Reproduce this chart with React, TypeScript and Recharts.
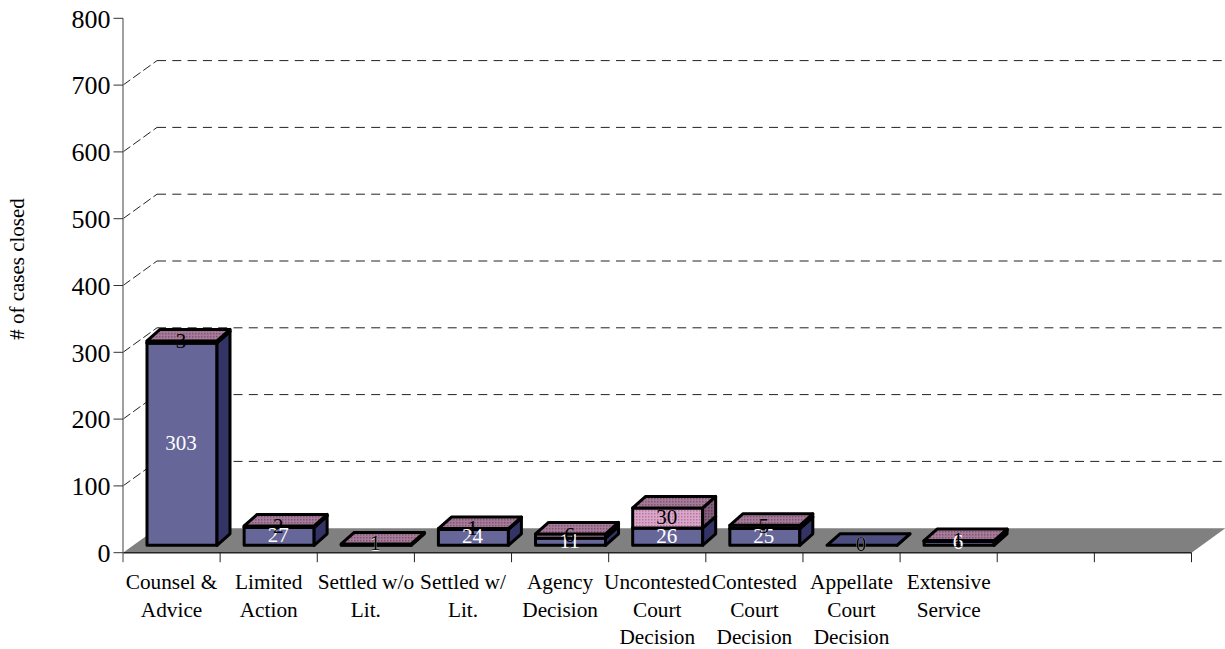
import React from 'react';
import { BarChart, Bar, XAxis, YAxis, CartesianGrid, LabelList } from 'recharts';

const categories = [
  'Counsel &\nAdvice',
  'Limited\nAction',
  'Settled w/o\nLit.',
  'Settled w/\nLit.',
  'Agency\nDecision',
  'Uncontested\nCourt\nDecision',
  'Contested\nCourt\nDecision',
  'Appellate\nCourt\nDecision',
  'Extensive\nService',
  '',
  ' ',
];
const closedValues = [303, 27, 1, 24, 11, 26, 25, 0, 6, null, null];
const otherValues = [3, 2, 1, 1, 6, 30, 5, 0, 1, null, null];
const yTicks = [0, 100, 200, 300, 400, 500, 600, 700, 800];

const data = categories.map((name, i) => ({ name, closed: closedValues[i], other: otherValues[i] }));

const FONT = '"Liberation Serif", serif';
const WIDTH = 1225;
const HEIGHT = 649;
const PLOT_LEFT = 123;
const PLOT_RIGHT = 33.5;
const PLOT_TOP = 18.3;
const AXIS_HEIGHT = 96.3;
const BAND = (WIDTH - PLOT_LEFT - PLOT_RIGHT) / categories.length;

// fake 3D offsets
const WALL_DX = 34;
const WALL_DY = -24.5;
const BAR_SHIFT_X = 10;
const BAR_SHIFT_Y = -7.4;
const BAR_DX = 13;
const BAR_DY = -11.5;

const makeBox = (front: string, side: string, top: string) => (props: any) => {
  const { x, y, width, height } = props;
  const value = props.dataKey === 'closed' ? props.payload.closed : props.payload.other;
  if (value === null || value === undefined) return <g />;
  if (props.dataKey === 'other' && value === 0) return <g />;
  const l = x + BAR_SHIFT_X;
  const t = y + BAR_SHIFT_Y;
  const r = l + width;
  const b = t + height;
  const line = { stroke: '#000', strokeWidth: 3, strokeLinejoin: 'round' as const };
  return (
    <g>
      <rect x={l} y={t} width={width} height={height} fill={front} {...line} />
      <polygon points={`${r},${t} ${r + BAR_DX},${t + BAR_DY} ${r + BAR_DX},${b + BAR_DY} ${r},${b}`} fill={side} {...line} />
      <polygon points={`${l},${t} ${l + BAR_DX},${t + BAR_DY} ${r + BAR_DX},${t + BAR_DY} ${r},${t}`} fill={top} {...line} />
    </g>
  );
};

const ClosedBox = makeBox('#666699', '#333366', '#4d4d80');
const OtherBox = makeBox('url(#pinkFront)', 'url(#pinkSide)', 'url(#pinkTop)');

const makeLabel = (fill: string) => (props: any) => {
  const { x, y, width, height, value } = props;
  if (value === null || value === undefined) return null;
  return (
    <text
      x={x + width / 2 + BAR_SHIFT_X - 1}
      y={y + height / 2 + BAR_SHIFT_Y + 6}
      textAnchor="middle"
      fontFamily={FONT}
      fontSize={21}
      fill={fill}
    >
      {value}
    </text>
  );
};

const GridLevel = (props: any) => {
  const { x1, x2, y1, index } = props;
  const bottom = HEIGHT - AXIS_HEIGHT;
  if (y1 < PLOT_TOP + 1) return <g key={index} />;
  if (y1 > bottom - 1) {
    return (
      <polygon
        key={index}
        points={`${x1},${y1} ${x1 + WALL_DX},${y1 + WALL_DY} ${x2 + WALL_DX},${y1 + WALL_DY} ${x2},${y1}`}
        fill="#808080"
      />
    );
  }
  return (
    <g key={index} fill="none" stroke="#222" strokeWidth={1}>
      <line x1={x1} y1={y1} x2={x1 + WALL_DX} y2={y1 + WALL_DY} strokeDasharray="9 3.5" />
      <line x1={x1 + WALL_DX} y1={y1 + WALL_DY} x2={x2 + WALL_DX} y2={y1 + WALL_DY} strokeDasharray="9 6.3" />
    </g>
  );
};

const CategoryTick = (props: any) => {
  const { x, y, payload, index } = props;
  const lines = String(payload.value).trim().split('\n').filter(Boolean);
  return (
    <g>
      {index === 0 && <line x1={x - BAND / 2} y1={y} x2={x - BAND / 2} y2={y + 9.5} stroke="#444" />}
      <line x1={x + BAND / 2} y1={y} x2={x + BAND / 2} y2={y + 9.5} stroke="#222" />
      {lines.map((text, i) => (
        <text key={i} x={x} y={y + 36.5 + i * 27.5} textAnchor="middle" fontFamily={FONT} fontSize={21.3} fill="#000">
          {text}
        </text>
      ))}
    </g>
  );
};

const AxisTitle = () => (
  <text
    transform="translate(24 269) rotate(-90)"
    textAnchor="middle"
    fontFamily={FONT}
    fontSize={21}
    fill="#000"
  >
    # of cases closed
  </text>
);

export default function App() {
  return (
    <div style={{ position: 'absolute', left: 0, top: 0, width: WIDTH, height: HEIGHT, background: '#fff' }}>
      <BarChart
        width={WIDTH}
        height={HEIGHT}
        data={data}
        margin={{ top: PLOT_TOP, right: PLOT_RIGHT, left: 0, bottom: 0 }}
        barSize={70}
      >
        <defs>
          <pattern id="pinkFront" width="3" height="3" patternUnits="userSpaceOnUse">
            <rect width="3" height="3" fill="#dca6cb" />
            <rect width="1.5" height="1.5" fill="#b07a9e" />
          </pattern>
          <pattern id="pinkTop" width="3" height="3" patternUnits="userSpaceOnUse">
            <rect width="3" height="3" fill="#a67a99" />
            <rect width="1.5" height="1.5" fill="#7f5573" />
          </pattern>
          <pattern id="pinkSide" width="3" height="3" patternUnits="userSpaceOnUse">
            <rect width="3" height="3" fill="#85607d" />
            <rect width="1.5" height="1.5" fill="#5b3c54" />
          </pattern>
        </defs>
        <CartesianGrid vertical={false} horizontal={GridLevel} />
        <XAxis
          dataKey="name"
          interval={0}
          height={AXIS_HEIGHT}
          axisLine={{ stroke: '#222', strokeWidth: 1.5 }}
          tickLine={false}
          tickSize={0}
          tickMargin={0}
          tick={CategoryTick}
        />
        <YAxis
          domain={[0, 800]}
          ticks={yTicks}
          width={PLOT_LEFT}
          axisLine={{ stroke: '#808080', strokeWidth: 1.5 }}
          tickLine={{ stroke: '#333' }}
          tickSize={9.5}
          tickMargin={3}
          tick={{ fontFamily: FONT, fontSize: 26, fill: '#000' }}
          label={{ content: AxisTitle }}
        />
        <Bar dataKey="closed" stackId="cases" isAnimationActive={false} shape={ClosedBox}>
          <LabelList dataKey="closed" content={makeLabel('#fff')} />
        </Bar>
        <Bar dataKey="other" stackId="cases" isAnimationActive={false} shape={OtherBox}>
          <LabelList dataKey="other" content={makeLabel('#000')} />
        </Bar>
      </BarChart>
    </div>
  );
}
